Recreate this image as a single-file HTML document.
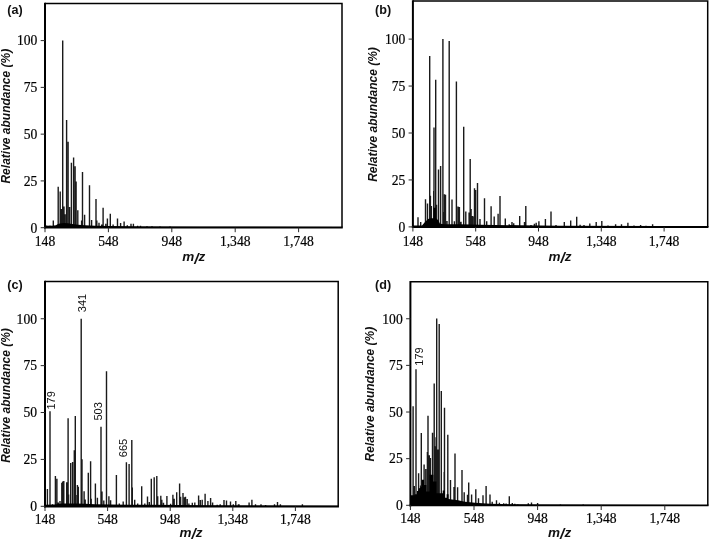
<!DOCTYPE html><html><head><meta charset="utf-8"><style>html,body{margin:0;padding:0;background:#fff;}svg{display:block;will-change:transform}.tl{font-family:"Liberation Serif",serif;font-size:13.6px;fill:#000;stroke:#000;stroke-width:0.2px}.ti{font-family:"Liberation Sans",sans-serif;font-size:12px;font-weight:bold;font-style:italic;fill:#111}.mz{font-family:"Liberation Sans",sans-serif;font-size:13.5px;font-weight:bold;font-style:italic;fill:#111}.pl{font-family:"Liberation Sans",sans-serif;font-size:12.6px;font-weight:bold;fill:#111}.an{font-family:"Liberation Sans",sans-serif;font-size:11px;fill:#111}</style></head><body>
<svg width="709" height="539" viewBox="0 0 709 539">
<rect width="709" height="539" fill="#fff"/>
<g><path d="M53.30 227.60V220.59M58.20 227.60V186.73M60.20 227.60V191.59M61.30 227.60V208.99M62.70 227.60V40.60M64.00 227.60V206.56M65.10 227.60V214.23M66.60 227.60V120.12M68.10 227.60V141.82M69.60 227.60V207.12M71.40 227.60V162.78M73.60 227.60V157.54M75.10 227.60V166.14M76.10 227.60V181.49M77.80 227.60V210.30M81.60 227.60V220.40M82.50 227.60V171.94M84.60 227.60V214.79M89.50 227.60V185.23M91.60 227.60V220.03M96.00 227.60V198.89M96.80 227.60V220.40M99.00 227.60V222.65M101.70 227.60V224.52M103.10 227.60V207.87M105.80 227.60V223.77M107.40 227.60V218.53M110.30 227.60V213.67M113.10 227.60V224.52M117.50 227.60V218.53M120.60 227.60V223.02M124.10 227.60V221.53M127.30 227.60V225.27M131.00 227.60V223.77M133.40 227.60V223.77M137.60 227.60V225.64M140.50 227.60V225.83M147.00 227.60V226.20M152.00 227.60V226.20M160.00 227.60V226.39M170.00 227.60V226.58" stroke="#1a1a1a" stroke-width="1.4" fill="none"/><polygon points="45.00,227.60 45.00,225.27 48.00,225.83 50.00,225.45 52.00,225.83 56.00,225.27 57.50,224.33 60.00,223.58 64.00,223.02 68.00,223.21 72.00,223.96 78.00,224.71 85.00,225.27 95.00,225.64 110.00,226.02 140.00,226.39 200.00,226.76 342.00,226.95 342.00,227.60" fill="#000"/><path d="M45.00 3.50H342.00V227.60" stroke="#000" stroke-width="1.5" fill="none"/><path d="M45.00 2.75V228.60" stroke="#000" stroke-width="2" fill="none"/><path d="M44.00 227.60H342.75" stroke="#000" stroke-width="2.00" fill="none"/><path d="M40.70 227.70H45.00M40.70 180.92H45.00M40.70 134.15H45.00M40.70 87.38H45.00M40.70 40.60H45.00M45.00 227.60V232.20M108.40 227.60V232.20M171.80 227.60V232.20M235.20 227.60V232.20M298.60 227.60V232.20" stroke="#2a2a2a" stroke-width="1" fill="none"/><text class="tl" x="37.30" y="232.50" text-anchor="end">0</text><text class="tl" x="37.30" y="185.72" text-anchor="end">25</text><text class="tl" x="37.30" y="138.95" text-anchor="end">50</text><text class="tl" x="37.30" y="92.17" text-anchor="end">75</text><text class="tl" x="37.30" y="45.40" text-anchor="end">100</text><text class="tl" x="45.00" y="246.20" text-anchor="middle">148</text><text class="tl" x="108.40" y="246.20" text-anchor="middle">548</text><text class="tl" x="171.80" y="246.20" text-anchor="middle">948</text><text class="tl" x="235.20" y="246.20" text-anchor="middle">1,348</text><text class="tl" x="298.60" y="246.20" text-anchor="middle">1,748</text><text class="ti" transform="translate(6.30 116.20) rotate(-90)" text-anchor="middle" dominant-baseline="central">Relative abundance (%)</text><text class="mz" x="193.80" y="261.40" text-anchor="middle">m<tspan font-size="15.5px" dy="2.2">/</tspan><tspan dy="-2.2">z</tspan></text><text class="pl" x="7.30" y="13.60">(a)</text></g>
<g><path d="M418.00 226.90V217.22M420.70 226.90V221.91M425.50 226.90V199.22M427.50 226.90V203.54M429.70 226.90V55.97M430.40 226.90V195.66M431.40 226.90V205.97M433.70 226.90V190.97M434.00 226.90V127.41M435.70 226.90V79.79M436.50 226.90V204.85M438.50 226.90V169.60M440.60 226.90V166.04M442.90 226.90V39.10M444.50 226.90V194.16M445.50 226.90V194.72M449.20 226.90V40.97M452.00 226.90V199.60M454.40 226.90V221.16M456.40 226.90V81.47M459.40 226.90V206.91M461.00 226.90V221.72M463.70 226.90V126.85M465.80 226.90V211.41M469.10 226.90V212.54M470.20 226.90V159.10M471.10 226.90V208.97M473.00 226.90V216.47M474.50 226.90V188.35M475.60 226.90V190.04M477.50 226.90V182.91M480.00 226.90V219.10M484.50 226.90V198.29M486.70 226.90V221.16M491.10 226.90V206.35M494.20 226.90V216.47M498.10 226.90V213.66M500.00 226.90V196.04M505.30 226.90V218.54M509.20 226.90V224.16M512.00 226.90V222.10M513.70 226.90V223.22M519.70 226.90V215.91M525.80 226.90V205.97M536.20 226.90V222.85M538.90 226.90V221.16M545.40 226.90V219.10M551.00 226.90V211.41M564.30 226.90V222.10M570.70 226.90V220.60M576.70 226.90V216.85M580.10 226.90V224.72M589.80 226.90V223.41M596.20 226.90V221.91M601.80 226.90V220.97M615.60 226.90V224.16M621.50 226.90V224.16M627.90 226.90V222.85M640.60 226.90V225.10M652.60 226.90V224.35M443.60 226.90V211.97M447.00 226.90V220.97M458.00 226.90V206.54M460.50 226.90V221.91M472.50 226.90V216.10M534.40 226.90V223.79M524.50 226.90V221.91M531.00 226.90V225.10M556.00 226.90V225.10M584.00 226.90V225.10M608.00 226.90V225.47M634.00 226.90V225.47M646.00 226.90V225.66" stroke="#1a1a1a" stroke-width="1.4" fill="none"/><polygon points="412.90,226.90 412.90,225.47 422.00,225.47 423.50,223.79 425.00,221.91 428.00,219.10 431.00,218.16 433.50,218.16 433.50,207.85 436.00,207.85 436.00,218.16 438.00,220.04 440.00,223.79 445.00,224.16 460.00,224.35 480.00,224.72 520.00,225.29 560.00,225.66 660.00,226.04 660.00,226.90" fill="#000"/><path d="M412.90 1.00H707.70V226.90" stroke="#000" stroke-width="1.5" fill="none"/><path d="M412.90 0.25V227.90" stroke="#000" stroke-width="2" fill="none"/><path d="M411.90 226.90H708.45" stroke="#000" stroke-width="2.00" fill="none"/><path d="M408.60 226.90H412.90M408.60 179.95H412.90M408.60 133.00H412.90M408.60 86.05H412.90M408.60 39.10H412.90M412.90 226.90V231.50M475.70 226.90V231.50M538.50 226.90V231.50M601.30 226.90V231.50M664.10 226.90V231.50" stroke="#2a2a2a" stroke-width="1" fill="none"/><text class="tl" x="405.30" y="231.70" text-anchor="end">0</text><text class="tl" x="405.30" y="184.75" text-anchor="end">25</text><text class="tl" x="405.30" y="137.80" text-anchor="end">50</text><text class="tl" x="405.30" y="90.85" text-anchor="end">75</text><text class="tl" x="405.30" y="43.90" text-anchor="end">100</text><text class="tl" x="412.90" y="245.60" text-anchor="middle">148</text><text class="tl" x="475.70" y="245.60" text-anchor="middle">548</text><text class="tl" x="538.50" y="245.60" text-anchor="middle">948</text><text class="tl" x="601.30" y="245.60" text-anchor="middle">1,348</text><text class="tl" x="664.10" y="245.60" text-anchor="middle">1,748</text><text class="ti" transform="translate(373.30 114.50) rotate(-90)" text-anchor="middle" dominant-baseline="central">Relative abundance (%)</text><text class="mz" x="560.00" y="260.90" text-anchor="middle">m<tspan font-size="15.5px" dy="2.2">/</tspan><tspan dy="-2.2">z</tspan></text><text class="pl" x="375.10" y="13.60">(b)</text></g>
<g><path d="M47.40 506.40V488.95M50.00 506.40V411.16M52.50 506.40V504.33M55.40 506.40V476.02M56.90 506.40V478.64M58.30 506.40V502.45M60.00 506.40V500.95M61.80 506.40V482.77M62.70 506.40V481.46M63.80 506.40V480.89M66.70 506.40V482.21M68.10 506.40V418.29M68.60 506.40V494.39M70.70 506.40V462.90M72.60 506.40V461.96M74.30 506.40V450.15M75.30 506.40V416.04M75.80 506.40V494.95M77.40 506.40V485.02M78.30 506.40V486.71M81.20 506.40V318.75M82.00 506.40V459.34M84.10 506.40V491.20M85.20 506.40V499.45M88.30 506.40V472.83M90.60 506.40V461.21M91.20 506.40V498.70M95.40 506.40V483.52M97.40 506.40V497.76M101.00 506.40V426.72M102.00 506.40V491.39M103.80 506.40V500.58M106.50 506.40V371.24M108.90 506.40V496.27M110.60 506.40V500.20M116.40 506.40V475.08M119.30 506.40V503.39M123.20 506.40V501.51M126.40 506.40V462.34M129.10 506.40V464.02M131.80 506.40V440.03M132.30 506.40V487.45M134.70 506.40V499.64M137.70 506.40V503.39M141.70 506.40V486.33M144.80 506.40V503.39M147.50 506.40V496.45M149.30 506.40V501.89M151.30 506.40V478.64M154.20 506.40V477.15M156.80 506.40V476.02M157.70 506.40V496.27M160.80 506.40V495.70M161.80 506.40V499.64M163.50 506.40V502.83M166.90 506.40V496.08M170.60 506.40V503.76M172.90 506.40V494.77M174.20 506.40V498.70M176.70 506.40V492.33M179.60 506.40V483.52M180.60 506.40V496.83M183.00 506.40V493.08M184.50 506.40V497.20M185.50 506.40V496.83M187.20 506.40V498.89M188.90 506.40V503.39M192.30 506.40V502.83M194.80 506.40V502.45M198.60 506.40V495.52M200.30 506.40V500.01M202.20 506.40V499.64M205.10 506.40V493.83M207.90 506.40V500.95M210.60 506.40V497.95M212.60 506.40V502.45M217.20 506.40V504.70M220.20 506.40V504.33M224.00 506.40V500.01M226.50 506.40V500.58M230.50 506.40V501.51M233.30 506.40V504.33M235.80 506.40V500.95M238.40 506.40V504.33M239.00 506.40V504.14M249.10 506.40V502.45M251.90 506.40V499.83M255.50 506.40V504.33M261.00 506.40V504.33M265.60 506.40V504.89M274.50 506.40V504.33M277.50 506.40V502.08M280.40 506.40V504.33M302.40 506.40V504.33" stroke="#1a1a1a" stroke-width="1.4" fill="none"/><polygon points="45.00,506.40 45.00,504.70 55.00,504.51 58.00,503.95 62.00,503.39 75.00,503.39 85.00,503.76 95.00,504.33 110.00,504.51 130.00,504.70 150.00,504.70 180.00,505.08 200.00,505.26 240.00,505.45 338.00,505.64 338.00,506.40" fill="#000"/><path d="M45.00 281.60H338.20V506.40" stroke="#000" stroke-width="1.5" fill="none"/><path d="M45.00 280.85V507.40" stroke="#000" stroke-width="2" fill="none"/><path d="M44.00 506.40H338.95" stroke="#000" stroke-width="2.00" fill="none"/><path d="M40.70 506.30H45.00M40.70 459.41H45.00M40.70 412.53H45.00M40.70 365.64H45.00M40.70 318.75H45.00M45.00 506.40V511.00M107.60 506.40V511.00M170.20 506.40V511.00M232.80 506.40V511.00M295.40 506.40V511.00" stroke="#2a2a2a" stroke-width="1" fill="none"/><text class="tl" x="37.00" y="511.10" text-anchor="end">0</text><text class="tl" x="37.00" y="464.21" text-anchor="end">25</text><text class="tl" x="37.00" y="417.33" text-anchor="end">50</text><text class="tl" x="37.00" y="370.44" text-anchor="end">75</text><text class="tl" x="37.00" y="323.55" text-anchor="end">100</text><text class="tl" x="45.00" y="524.10" text-anchor="middle">148</text><text class="tl" x="107.60" y="524.10" text-anchor="middle">548</text><text class="tl" x="170.20" y="524.10" text-anchor="middle">948</text><text class="tl" x="232.80" y="524.10" text-anchor="middle">1,348</text><text class="tl" x="295.40" y="524.10" text-anchor="middle">1,748</text><text class="ti" transform="translate(6.00 395.50) rotate(-90)" text-anchor="middle" dominant-baseline="central">Relative abundance (%)</text><text class="mz" x="191.00" y="536.90" text-anchor="middle">m<tspan font-size="15.5px" dy="2.2">/</tspan><tspan dy="-2.2">z</tspan></text><text class="pl" x="7.30" y="288.70">(c)</text></g>
<g><path d="M413.10 505.40V406.15M414.30 505.40V485.89M416.00 505.40V369.17M418.60 505.40V473.19M420.60 505.40V485.52M421.30 505.40V433.04M424.10 505.40V464.42M425.80 505.40V469.08M428.00 505.40V415.86M429.30 505.40V455.26M430.40 505.40V457.88M432.50 505.40V432.85M434.20 505.40V383.55M436.10 505.40V437.34M436.70 505.40V318.38M439.20 505.40V323.98M441.30 505.40V391.02M444.20 505.40V472.07M444.50 505.40V407.83M447.80 505.40V434.72M450.50 505.40V479.92M454.00 505.40V487.01M455.00 505.40V453.58M457.60 505.40V487.20M462.00 505.40V470.02M464.20 505.40V492.24M467.50 505.40V494.86M468.70 505.40V482.53M471.60 505.40V494.48M475.80 505.40V489.25M478.50 505.40V498.22M483.00 505.40V495.23M486.10 505.40V486.08M490.00 505.40V494.48M492.20 505.40V501.76M496.50 505.40V500.27M499.40 505.40V502.70M503.70 505.40V503.26M506.10 505.40V503.45M509.30 505.40V496.35M512.30 505.40V503.07M514.80 505.40V503.82M517.80 505.40V504.38M528.30 505.40V503.26M531.50 505.40V502.51M537.60 505.40V503.07M560.40 505.40V504.57M583.20 505.40V504.57M427.40 505.40V451.90M434.70 505.40V446.30M438.10 505.40V449.48M435.30 505.40V451.34M437.30 505.40V455.08" stroke="#1a1a1a" stroke-width="1.4" fill="none"/><polygon points="410.40,505.40 410.40,495.23 414.70,495.23 414.70,494.30 417.00,494.30 417.00,490.93 418.60,490.93 418.60,488.69 421.70,486.82 421.70,479.73 424.00,479.73 424.00,484.96 426.40,484.96 426.40,491.49 429.50,491.49 429.50,474.69 433.40,474.69 433.40,481.41 436.50,481.41 436.50,493.17 442.70,493.17 442.70,490.56 445.00,490.56 445.00,497.84 446.60,497.84 446.60,494.30 448.60,494.30 448.60,498.96 452.00,499.52 458.00,500.27 465.00,501.76 475.00,502.70 490.00,503.63 510.00,504.19 540.00,504.57 707.80,504.94 707.80,505.40" fill="#000"/><path d="M410.40 281.80H707.80V505.40" stroke="#000" stroke-width="1.5" fill="none"/><path d="M410.40 281.05V506.40" stroke="#000" stroke-width="2" fill="none"/><path d="M409.40 505.40H708.55" stroke="#000" stroke-width="1.70" fill="none"/><path d="M406.10 505.30H410.40M406.10 458.66H410.40M406.10 412.03H410.40M406.10 365.39H410.40M406.10 318.75H410.40M410.40 505.40V510.00M474.00 505.40V510.00M537.60 505.40V510.00M601.20 505.40V510.00M664.80 505.40V510.00" stroke="#2a2a2a" stroke-width="1" fill="none"/><text class="tl" x="402.70" y="510.10" text-anchor="end">0</text><text class="tl" x="402.70" y="463.46" text-anchor="end">25</text><text class="tl" x="402.70" y="416.83" text-anchor="end">50</text><text class="tl" x="402.70" y="370.19" text-anchor="end">75</text><text class="tl" x="402.70" y="323.55" text-anchor="end">100</text><text class="tl" x="410.40" y="523.00" text-anchor="middle">148</text><text class="tl" x="474.00" y="523.00" text-anchor="middle">548</text><text class="tl" x="537.60" y="523.00" text-anchor="middle">948</text><text class="tl" x="601.20" y="523.00" text-anchor="middle">1,348</text><text class="tl" x="664.80" y="523.00" text-anchor="middle">1,748</text><text class="ti" transform="translate(370.30 394.10) rotate(-90)" text-anchor="middle" dominant-baseline="central">Relative abundance (%)</text><text class="mz" x="559.60" y="537.20" text-anchor="middle">m<tspan font-size="15.5px" dy="2.2">/</tspan><tspan dy="-2.2">z</tspan></text><text class="pl" x="375.10" y="288.50">(d)</text></g>
<g class="an">
<text transform="translate(51.2 400.4) rotate(-90) scale(1 0.93)" text-anchor="middle" dominant-baseline="central">179</text>
<text transform="translate(81.8 303.0) rotate(-90) scale(1 0.93)" text-anchor="middle" dominant-baseline="central">341</text>
<text transform="translate(98.6 411.4) rotate(-90) scale(1 0.93)" text-anchor="middle" dominant-baseline="central">503</text>
<text transform="translate(123.0 448.0) rotate(-90) scale(1 0.93)" text-anchor="middle" dominant-baseline="central">665</text>
<text transform="translate(418.7 356.5) rotate(-90) scale(1 0.93)" text-anchor="middle" dominant-baseline="central">179</text>
</g>

</svg></body></html>
